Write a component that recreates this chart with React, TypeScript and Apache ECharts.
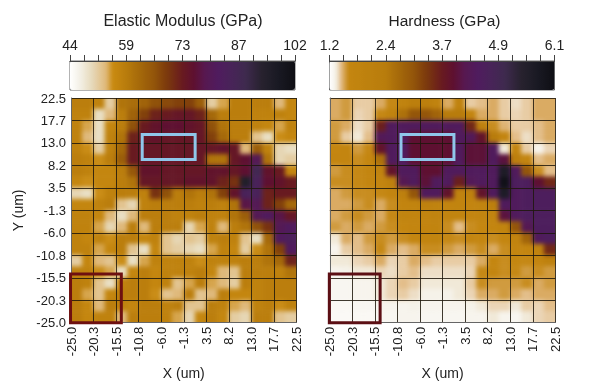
import React, { useEffect, useRef } from "react";
import * as echarts from "echarts";

const titles = ["Elastic Modulus (GPa)", "Hardness (GPa)"];
const xTicks = ["-25.0", "-20.3", "-15.5", "-10.8", "-6.0", "-1.3", "3.5", "8.2", "13.0", "17.7", "22.5"];
const yTicks = xTicks;
const modulusBar = ["44", "", "", "", "59", "", "", "", "73", "", "", "", "87", "", "", "", "102"];
const hardnessBar = ["1.2", "", "", "", "2.4", "", "", "", "3.7", "", "", "", "4.9", "", "", "", "6.1"];

// rows run from the top of the map (Y = 22.5) to its bottom (Y = -25)
const modulus = [
  [58,58,57,51,60,61,63,66,67,68,68,64,51,54,58,58,58,58,53,56],
  [57,57,49,53,58,63,68,72,73,74,74,72,62,58,58,58,57,57,57,56],
  [57,54,49,56,58,66,73,75,76,76,75,74,66,60,58,58,57,56,54,57],
  [57,53,49,57,60,72,74,75,74,74,74,74,68,62,58,58,52,49,55,56],
  [57,55,51,57,62,73,74,74,74,74,74,74,74,75,74,53,64,57,50,49],
  [58,57,55,58,64,73,74,74,74,74,74,74,60,60,74,76,80,60,50,51],
  [58,57,56,56,58,65,75,75,74,74,74,74,75,75,74,76,88,75,73,56],
  [56,55,56,56,58,60,74,74,74,74,75,75,75,72,70,95,85,76,75,73],
  [50,49,55,57,58,58,57,70,66,58,60,58,60,68,75,85,85,72,73,73],
  [56,56,57,58,52,50,57,58,58,58,58,57,58,57,60,78,80,72,68,62],
  [57,57,56,53,49,53,58,58,58,57,57,58,57,57,60,64,80,82,78,74],
  [57,57,54,50,53,58,53,58,58,58,50,54,57,53,58,60,66,70,80,82],
  [57,56,57,55,58,58,56,57,52,50,52,51,57,58,57,52,49,62,82,84],
  [57,57,54,56,58,52,49,56,52,51,50,49,54,57,56,51,55,60,68,82],
  [51,56,53,52,55,49,54,57,57,57,57,55,57,57,57,58,58,60,62,72],
  [57,57,55,54,49,56,58,56,57,57,57,58,56,53,52,58,58,58,57,60],
  [58,57,52,49,57,58,58,56,57,52,54,58,54,53,51,58,57,58,58,58],
  [58,54,52,56,58,58,58,55,52,53,58,52,53,58,56,56,57,58,58,58],
  [58,56,53,58,57,56,58,58,57,58,52,52,58,57,54,53,57,58,55,57],
  [58,56,57,57,53,58,58,58,57,54,50,56,58,56,51,50,58,58,52,51],
];
const hardness = [
  [1.5,1.55,1.42,1.42,1.5,1.62,1.9,2.2,2.2,1.9,1.5,1.9,1.42,1.45,1.5,1.42,1.38,1.42,1.5,1.5],
  [1.5,1.55,1.4,1.42,1.62,1.9,2.6,3.0,3.0,2.8,2.4,2.4,1.7,1.5,1.5,1.42,1.4,1.42,1.5,1.5],
  [1.55,1.5,1.38,1.42,3.6,4.4,4.4,4.4,4.4,4.4,4.4,4.4,3.5,2.0,1.6,1.48,1.42,1.42,1.45,1.5],
  [1.55,1.42,1.35,1.45,4.3,4.4,4.4,3.9,3.9,3.9,3.9,4.4,4.3,3.8,2.4,1.7,1.45,1.38,1.45,1.5],
  [1.65,1.7,1.55,1.62,3.8,4.4,4.4,3.9,3.9,3.9,3.9,4.4,3.95,3.95,4.4,1.35,1.7,1.42,1.3,1.4],
  [1.7,1.7,1.6,1.65,2.6,4.4,4.4,3.9,3.9,3.9,3.9,4.4,3.95,3.95,4.4,4.0,2.2,1.7,1.45,1.5],
  [1.55,1.6,1.62,1.7,1.9,3.8,4.4,4.4,3.9,3.9,4.4,4.4,4.4,4.4,4.4,5.6,4.4,3.0,1.6,1.45],
  [1.6,1.6,1.62,1.7,1.7,2.0,4.2,4.4,3.95,4.4,4.4,3.6,4.3,4.4,4.4,6.0,4.5,4.5,3.9,3.5],
  [1.5,1.55,1.6,1.6,1.62,1.7,2.1,3.0,4.4,4.4,3.8,1.9,2.0,3.8,4.4,5.6,4.4,4.5,4.5,4.5],
  [1.5,1.5,1.55,1.6,1.5,1.6,1.75,1.8,2.0,1.9,1.75,1.8,1.7,1.8,2.2,4.4,4.4,4.5,4.5,4.5],
  [1.5,1.55,1.6,1.55,1.5,1.62,1.8,1.75,1.75,1.9,1.8,1.8,1.7,1.8,1.75,4.0,4.4,4.5,4.5,4.5],
  [1.55,1.5,1.55,1.5,1.55,1.6,1.65,1.7,1.75,1.8,1.6,1.45,1.6,1.65,1.7,1.8,3.0,4.2,4.5,4.5],
  [1.35,1.5,1.45,1.55,1.6,1.55,1.6,1.65,1.75,1.8,1.62,1.6,1.7,1.65,1.6,1.65,1.8,2.8,4.4,4.5],
  [1.3,1.42,1.45,1.5,1.62,1.5,1.45,1.5,1.6,1.6,1.55,1.5,1.55,1.6,1.5,1.6,1.7,1.7,1.9,3.5],
  [1.35,1.35,1.4,1.42,1.5,1.4,1.42,1.5,1.45,1.42,1.42,1.42,1.42,1.5,1.65,1.6,1.65,1.62,1.7,2.0],
  [1.3,1.32,1.35,1.35,1.4,1.38,1.42,1.45,1.38,1.38,1.38,1.38,1.4,1.62,1.7,1.6,1.62,1.55,1.6,1.55],
  [1.28,1.28,1.3,1.3,1.35,1.4,1.45,1.42,1.35,1.35,1.35,1.35,1.42,1.6,1.55,1.55,1.55,1.6,1.5,1.55],
  [1.28,1.28,1.3,1.3,1.35,1.4,1.42,1.38,1.32,1.32,1.32,1.35,1.4,1.5,1.5,1.55,1.5,1.45,1.5,1.5],
  [1.26,1.26,1.28,1.28,1.3,1.3,1.3,1.32,1.3,1.3,1.3,1.3,1.32,1.35,1.4,1.4,1.35,1.42,1.4,1.45],
  [1.25,1.25,1.26,1.26,1.28,1.28,1.3,1.3,1.28,1.28,1.28,1.28,1.3,1.3,1.35,1.3,1.28,1.35,1.4,1.42],
];
// [x0, y0, x1, y1] in um
const blueBox = [-10.0, 14.8, 1.15, 9.5];
const redBox = [-25.1, -14.7, -14.4, -25];

const commonStops: [number, string][] = [
  [0.25, "#b87c0c"], [0.3, "#a86c0a"], [0.37, "#94560a"], [0.43, "#7c3a0c"], [0.5, "#681a20"],
  [0.55, "#5e1030"], [0.6, "#571850"], [0.66, "#4f1c5e"], [0.72, "#482458"], [0.78, "#3e2a4e"],
  [0.85, "#28222f"], [0.92, "#1a1a24"], [1, "#0e0e14"],
];
const modulusStops: [number, string][] = [
  [0, "#ffffff"], [0.05, "#f2eee2"], [0.1, "#e6d8b8"], [0.16, "#dfb878"], [0.19, "#c98a10"], ...commonStops,
];
const hardnessStops: [number, string][] = [
  [0, "#ffffff"], [0.03, "#f3efe4"], [0.055, "#e0b478"], [0.085, "#c48610"], ...commonStops,
];

function ramp(stops: [number, string][], n = 80): string[] {
  const rgb = (h: string) => [1, 3, 5].map((i) => parseInt(h.slice(i, i + 2), 16));
  const out: string[] = [];
  for (let i = 0; i <= n; i++) {
    const t = i / n;
    let k = 0;
    while (k < stops.length - 2 && stops[k + 1][0] < t) k++;
    const [p0, c0] = stops[k];
    const [p1, c1] = stops[k + 1];
    const f = Math.min(1, Math.max(0, (t - p0) / (p1 - p0)));
    const a = rgb(c0);
    const b = rgb(c1);
    out.push(`rgb(${a.map((v, j) => Math.round(v + (b[j] - v) * f)).join(",")})`);
  }
  return out;
}

const FONT = "'Liberation Sans Narrow', 'Liberation Sans', sans-serif";
const TXT = "#222";
const PLOT_TOP = 98;
const PLOT_H = 224.7;
const PLOT_W = 225.5;
const LEFTS = [71, 329.8];
const BAR_LEFTS = [70, 329.5];
const CELL = PLOT_W / 20;

// one extra ring of cells that repeats the edge, hidden by the clip, so that softening the map does not fade its border
function toPaddedCells(rows: number[][]) {
  const out: number[][] = [];
  const n = rows.length;
  for (let r = -1; r <= n; r++) {
    for (let c = -1; c <= n; c++) {
      const rr = Math.min(n - 1, Math.max(0, r));
      const cc = Math.min(n - 1, Math.max(0, c));
      out.push([c + 1, n - r, rows[rr][cc]]);
    }
  }
  return out;
}

function heatOption() {
  const ids = Array.from({ length: 22 }, (_, i) => String(i));
  const axes = (g: number) => ({ type: "category", gridIndex: g, data: ids, show: false });
  const grid = (left: number) => ({
    left: left - CELL, top: PLOT_TOP - CELL, width: PLOT_W + 2 * CELL, height: PLOT_H + 2 * CELL,
  });
  const heat = (i: number, rows: number[][]) => ({
    type: "heatmap", xAxisIndex: i, yAxisIndex: i, data: toPaddedCells(rows),
    itemStyle: { borderWidth: 0 }, emphasis: { disabled: true }, progressive: 0,
  });
  const vm = (i: number, min: number, max: number, stops: [number, string][]) => ({
    type: "continuous", seriesIndex: i, min, max, show: false, inRange: { color: ramp(stops) },
  });
  return {
    animation: false,
    grid: [grid(LEFTS[0]), grid(LEFTS[1])],
    xAxis: [axes(0), axes(1)],
    yAxis: [axes(0), axes(1)],
    visualMap: [vm(0, 44, 102, modulusStops), vm(1, 1.2, 6.1, hardnessStops)],
    series: [heat(0, modulus), heat(1, hardness)],
  };
}

function frameOption() {
  const hiddenVal = (gridIndex: number) => ({
    type: "value", gridIndex, min: -25, max: 22.5, show: false, scale: true,
  });
  const lineCol = "rgba(30,24,12,0.85)";
  const tickX = (gridIndex: number) => ({
    type: "category", gridIndex, data: xTicks, boundaryGap: false, position: "bottom", z: 5,
    name: "X (um)", nameLocation: "middle", nameGap: 43,
    nameTextStyle: { fontFamily: FONT, fontSize: 14, color: TXT },
    axisLine: { show: true, onZero: false, lineStyle: { color: "#666", width: 1 } },
    axisTick: { show: false },
    axisLabel: { show: true, interval: 0, rotate: 90, margin: 4, fontFamily: FONT, fontSize: 13, color: TXT },
    splitLine: { show: true, interval: 0, lineStyle: { color: lineCol, width: 1 } },
  });
  const tickY = (gridIndex: number, labels: boolean) => ({
    type: "category", gridIndex, data: yTicks, boundaryGap: false, position: "left", z: 5,
    name: labels ? "Y (um)" : "", nameLocation: "middle", nameGap: 46,
    nameTextStyle: { fontFamily: FONT, fontSize: 14, color: TXT },
    axisLine: { show: true, onZero: false, lineStyle: { color: "#666", width: 1 } },
    axisTick: { show: false },
    axisLabel: { show: labels, interval: 0, margin: 5, fontFamily: FONT, fontSize: 13, color: TXT },
    splitLine: { show: true, interval: 0, lineStyle: { color: lineCol, width: 1 } },
  });
  const barX = (gridIndex: number, data: string[]) => ({
    type: "category", gridIndex, data, boundaryGap: false, position: "top", z: 5,
    axisLine: { show: true, onZero: false, lineStyle: { color: "#444", width: 1 } },
    axisTick: { show: true, interval: 0, length: 6, lineStyle: { color: "#444", width: 1 } },
    axisLabel: { show: true, interval: 0, margin: 9, fontFamily: FONT, fontSize: 14, color: TXT },
    splitLine: { show: false },
  });
  const barY = (gridIndex: number) => ({ type: "category", gridIndex, data: ["0"], show: false });
  const boxes = (i: number, box: number[], color: string) => ({
    type: "custom", xAxisIndex: i, yAxisIndex: i, z: 8, clip: false, silent: true,
    encode: { x: [0, 2], y: [1, 3] },
    data: [box],
    renderItem: (_: any, api: any) => {
      const a = api.coord([api.value(0), api.value(1)]);
      const b = api.coord([api.value(2), api.value(3)]);
      return {
        type: "rect",
        shape: { x: a[0], y: a[1], width: b[0] - a[0], height: b[1] - a[1] },
        style: { fill: "none", stroke: color, lineWidth: 3 },
      };
    },
  });
  const vm = (i: number, min: number, max: number, stops: [number, string][]) => ({
    type: "continuous", seriesIndex: [], min, max, orient: "horizontal",
    left: BAR_LEFTS[i], top: 61, itemWidth: 29, itemHeight: 225, padding: 0,
    calculable: false, showLabel: false, text: ["", ""], hoverLink: false,
    inRange: { color: ramp(stops) },
  });
  const gridFor = (left: number) => ({ left, top: PLOT_TOP, width: PLOT_W, height: PLOT_H });
  const barGrid = (left: number) => ({
    left, top: 61, width: 225, height: 29, show: true, borderColor: "#666", borderWidth: 1,
    backgroundColor: "transparent", z: 4,
  });
  return {
    animation: false,
    title: [
      { text: titles[0], left: 178, top: 7, textAlign: "center", textStyle: { fontFamily: FONT, fontSize: 16, fontWeight: "normal", color: TXT } },
      { text: titles[1], left: 439.5, top: 7, textAlign: "center", textStyle: { fontFamily: FONT, fontSize: 15.5, fontWeight: "normal", color: TXT } },
    ],
    grid: [gridFor(LEFTS[0]), gridFor(LEFTS[1]), barGrid(BAR_LEFTS[0]), barGrid(BAR_LEFTS[1])],
    xAxis: [tickX(0), tickX(1), hiddenVal(0), hiddenVal(1), barX(2, modulusBar), barX(3, hardnessBar)],
    yAxis: [tickY(0, true), tickY(1, false), hiddenVal(0), hiddenVal(1), barY(2), barY(3)],
    visualMap: [vm(0, 44, 102, modulusStops), vm(1, 1.2, 6.1, hardnessStops)],
    series: [boxes(2, blueBox, "#8fc6ea"), boxes(3, blueBox, "#8fc6ea"), boxes(2, redBox, "#6e1010"), boxes(3, redBox, "#5c0f14")],
  };
}

const clip = `path('M${LEFTS[0]} ${PLOT_TOP}h${PLOT_W}v${PLOT_H}h-${PLOT_W}z M${LEFTS[1]} ${PLOT_TOP}h${PLOT_W}v${PLOT_H}h-${PLOT_W}z')`;
const box: React.CSSProperties = { position: "absolute", left: 0, top: 0, width: 600, height: 388 };

export default function App() {
  const heatRef = useRef<HTMLDivElement>(null);
  const frameRef = useRef<HTMLDivElement>(null);
  useEffect(() => {
    const heat = echarts.init(heatRef.current!, undefined, { renderer: "svg" });
    heat.setOption(heatOption() as any);
    const frame = echarts.init(frameRef.current!, undefined, { renderer: "svg" });
    frame.setOption(frameOption() as any);
    return () => {
      heat.dispose();
      frame.dispose();
    };
  }, []);
  return (
    <div style={{ position: "fixed", left: 0, top: 0, width: 600, height: 388, background: "#fff", overflow: "hidden" }}>
      <div style={{ ...box, clipPath: clip }}>
        <div ref={heatRef} style={{ ...box, filter: "blur(2.2px)" }} />
      </div>
      <div ref={frameRef} style={{ ...box, filter: "blur(0.35px)" }} />
    </div>
  );
}
